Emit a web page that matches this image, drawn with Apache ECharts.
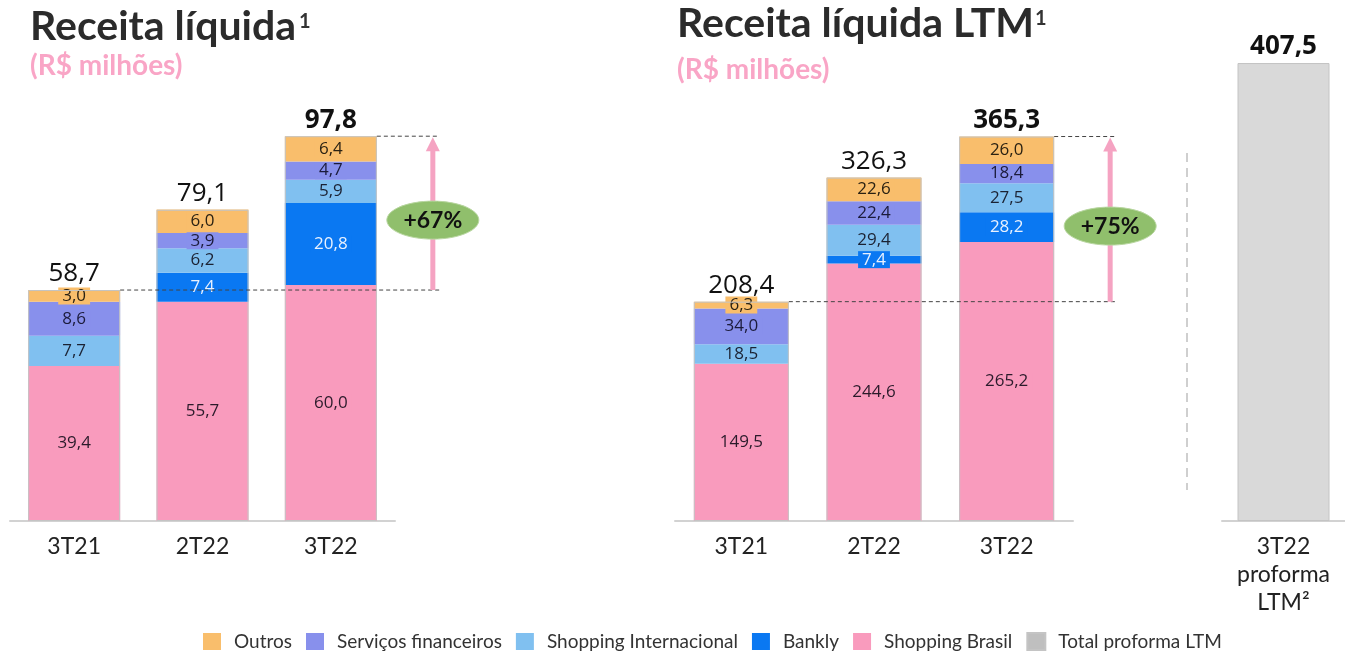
<!DOCTYPE html>
<html>
<head>
<meta charset="utf-8">
<script src="https://cdn.jsdelivr.net/npm/echarts@6/dist/echarts.min.js"></script>
<style>
  html, body { margin: 0; padding: 0; background: #fff; }
  #main { width: 1345px; height: 652px; }
</style>
</head>
<body>
<div id="main"></div>
<script>
// trimestre
const categories = ['3T21', '2T22', '3T22'];
const outros = [3.0, 6.0, 6.4];
const servicos = [8.6, 3.9, 4.7];
const shoppingInt = [7.7, 6.2, 5.9];
const bankly = [0, 7.4, 20.8];
const shoppingBr = [39.4, 55.7, 60.0];
const totals = [58.7, 79.1, 97.8];

// LTM
const outrosLtm = [6.3, 22.6, 26.0];
const servicosLtm = [34.0, 22.4, 18.4];
const shoppingIntLtm = [18.5, 29.4, 27.5];
const banklyLtm = [0, 7.4, 28.2];
const shoppingBrLtm = [149.5, 244.6, 265.2];
const totalsLtm = [208.4, 326.3, 365.3];

// proforma
const proformaCategory = ['3T22\nproforma\nLTM²'];
const proformaTotal = [407.5];
const growth = ['+67%', '+75%'];

const labelFont = "'Open Sans', sans-serif";
const textFont = "Lato, sans-serif";
const fmt = v => v.toFixed(1).replace('.', ',');

// ordem de empilhamento (de baixo para cima)
const segs = [
  { name: 'Shopping Brasil', color: '#f99bbd', text: '#2b1b2b', q: shoppingBr, ltm: shoppingBrLtm },
  { name: 'Bankly', color: '#0a78f2', text: '#e8f1ff', q: bankly, ltm: banklyLtm },
  { name: 'Shopping Internacional', color: '#80c0f0', text: '#1b2233', q: shoppingInt, ltm: shoppingIntLtm },
  { name: 'Serviços financeiros', color: '#8890ec', text: '#1b1b3b', q: servicos, ltm: servicosLtm },
  { name: 'Outros', color: '#f9be6c', text: '#2b2213', q: outros, ltm: outrosLtm }
];
const barW = [92, 95, 92];

function stackSeries(idx, key) {
  return segs.map(s => ({
    name: s.name, type: 'bar', stack: 'g' + idx,
    xAxisIndex: idx, yAxisIndex: idx,
    barWidth: barW[idx], barGap: '-100%',
    data: s[key],
    itemStyle: { color: s.color },
    label: {
      show: true, position: 'inside', color: s.text,
      fontSize: 17, fontFamily: labelFont,
      backgroundColor: s.color, padding: [0, 4],
      formatter: p => p.value ? fmt(p.value) : ''
    }
  }));
}

function totalSeries(idx, data) {
  return {
    name: 'total' + idx, type: 'bar',
    xAxisIndex: idx, yAxisIndex: idx,
    barWidth: barW[idx], barGap: '-100%', z: 3,
    data: data.map((v, i) => ({ value: v, label: { fontWeight: i === 2 ? 'bold' : 'normal' } })),
    itemStyle: { color: 'transparent', borderColor: '#c4c4c4', borderWidth: 1 },
    label: {
      show: true, position: 'top', distance: 3, color: '#111',
      fontSize: 26, fontFamily: labelFont,
      formatter: p => fmt(p.value)
    }
  };
}

const axisBase = {
  type: 'category',
  axisLine: { lineStyle: { color: '#d2d2d2', width: 2 } },
  axisTick: { show: false },
  axisLabel: { fontSize: 23, color: '#222', fontFamily: textFont, margin: 12, lineHeight: 28 }
};

const chart = echarts.init(document.getElementById('main'));
chart.setOption({
  animation: false,
  grid: [
    { left: 10, width: 385, top: 100, bottom: 131 },
    { left: 675, width: 398, top: 100, bottom: 131 },
    { left: 1222, width: 132, top: 40, bottom: 131 }
  ],
  xAxis: [
    { ...axisBase, gridIndex: 0, data: categories },
    { ...axisBase, gridIndex: 1, data: categories },
    { ...axisBase, gridIndex: 2, data: proformaCategory }
  ],
  yAxis: [
    { type: 'value', gridIndex: 0, min: 0, max: 107, show: false },
    { type: 'value', gridIndex: 1, min: 0, max: 400, show: false },
    { type: 'value', gridIndex: 2, min: 0, max: 428, show: false }
  ],
  legend: {
    top: 632, left: 203, padding: 0,
    itemWidth: 18, itemHeight: 17, itemGap: 14, icon: 'rect',
    textStyle: { fontSize: 19, color: '#333', fontFamily: textFont, padding: [0, 0, 0, 8] },
    data: [
      'Outros', 'Serviços financeiros', 'Shopping Internacional', 'Bankly', 'Shopping Brasil',
      { name: 'Total proforma LTM', itemStyle: { color: '#bfbfbf' } }
    ]
  },
  series: [
    ...stackSeries(0, 'q'),
    totalSeries(0, totals),
    ...stackSeries(1, 'ltm'),
    totalSeries(1, totalsLtm),
    {
      name: 'Total proforma LTM', type: 'bar',
      xAxisIndex: 2, yAxisIndex: 2, barWidth: 92,
      data: proformaTotal,
      itemStyle: { color: '#d9d9d9', borderColor: '#c4c4c4', borderWidth: 1 },
      label: {
        show: true, position: 'top', distance: 3, color: '#111',
        fontSize: 26, fontWeight: 'bold', fontFamily: labelFont,
        formatter: p => fmt(p.value)
      }
    }
  ]
});

// anotações de crescimento
function growthMarks(idx, from, to, text) {
  const f = { xAxisIndex: idx, yAxisIndex: idx };
  const a = chart.convertToPixel(f, [0, from]);
  const b = chart.convertToPixel(f, [2, to]);
  const half = barW[idx] / 2;
  const ax = b[0] + half + 56;
  const dash = { stroke: '#444', lineWidth: 1, lineDash: [4, 3] };
  const pink = '#f5a3c2';
  const cy = (a[1] + b[1]) / 2 + 7;
  return [
    { type: 'line', shape: { x1: a[0] + half, y1: a[1], x2: ax + 7, y2: a[1] }, style: dash, z: 10 },
    { type: 'line', shape: { x1: b[0] + half, y1: b[1], x2: ax + 7, y2: b[1] }, style: dash, z: 10 },
    { type: 'line', shape: { x1: ax, y1: a[1], x2: ax, y2: b[1] + 12 }, style: { stroke: pink, lineWidth: 5 }, z: 10 },
    { type: 'polygon', shape: { points: [[ax, b[1] + 1], [ax - 7, b[1] + 15], [ax + 7, b[1] + 15]] }, style: { fill: pink }, z: 10 },
    { type: 'ellipse', shape: { cx: ax, cy: cy, rx: 46, ry: 19 }, style: { fill: '#90bf6c', stroke: '#b8d6a0', lineWidth: 1 }, z: 11 },
    { type: 'text', x: ax, y: cy, style: { text: text, align: 'center', verticalAlign: 'middle', font: 'bold 23px Lato, sans-serif', fill: '#111' }, z: 12 }
  ];
}

const titleFont = 'bold 41px Lato, sans-serif';
const subFont = 'bold 28px Lato, sans-serif';
chart.setOption({
  graphic: [
    { type: 'text', x: 30, y: 27, style: { text: 'Receita líquida', font: titleFont, fill: '#2b2b2b', verticalAlign: 'middle' } },
    { type: 'text', x: 299, y: 22, style: { text: '1', font: 'bold 20px Lato, sans-serif', fill: '#333', verticalAlign: 'middle' } },
    { type: 'text', x: 30, y: 66, style: { text: '(R$ milhões)', font: subFont, fill: '#f9a5c6', verticalAlign: 'middle' } },
    { type: 'text', x: 677, y: 24, style: { text: 'Receita líquida LTM', font: titleFont, fill: '#2b2b2b', verticalAlign: 'middle' } },
    { type: 'text', x: 1035, y: 19, style: { text: '1', font: 'bold 20px Lato, sans-serif', fill: '#333', verticalAlign: 'middle' } },
    { type: 'text', x: 677, y: 70, style: { text: '(R$ milhões)', font: subFont, fill: '#f9a5c6', verticalAlign: 'middle' } },
    { type: 'line', shape: { x1: 1187, y1: 153, x2: 1187, y2: 490 }, style: { stroke: '#cfcfcf', lineWidth: 2, lineDash: [9, 6] } },
    ...growthMarks(0, totals[0], totals[2], growth[0]),
    ...growthMarks(1, totalsLtm[0], totalsLtm[2], growth[1])
  ]
});
</script>
</body>
</html>
